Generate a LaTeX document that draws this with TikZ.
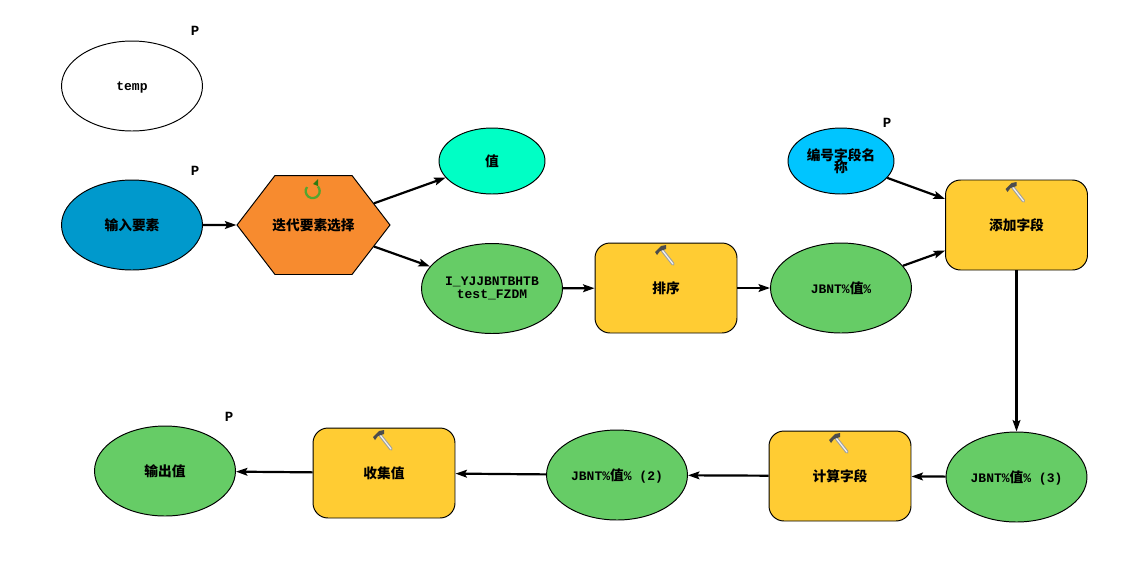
\documentclass[tikz,border=0pt]{standalone}
\usepackage{fontspec}
\setmainfont{Liberation Mono}
\newfontfamily\cjk[Scale=1.054]{Noto Sans CJK SC}
\usetikzlibrary{positioning}
\usetikzlibrary{arrows.meta}
\usetikzlibrary{shapes.symbols}
\usetikzlibrary{shapes.geometric}
\definecolor{inblue}{HTML}{0099CC}
\definecolor{iterorange}{HTML}{F78B2F}
\definecolor{outgreen}{HTML}{66CC66}
\definecolor{tooly}{HTML}{FFCC33}
\definecolor{valaqua}{HTML}{00FFC5}
\definecolor{namecyan}{HTML}{00C5FF}
\definecolor{loopgreen}{HTML}{55A52F}
\definecolor{loopdark}{HTML}{2F7A10}
\tikzset{
  lbl/.style={font=\fontsize{7.4}{8}\selectfont\bfseries,text depth=0.3pt},
  data/.style={ellipse,draw,line width=0.55pt,minimum width=2.82cm,minimum height=1.8cm,
    inner sep=0pt,align=center,lbl},
  tool/.style={rectangle,rounded corners=0.3cm,draw,line width=0.55pt,fill=tooly,
    minimum width=2.84cm,minimum height=1.8cm,inner sep=0pt,lbl},
  small/.style={minimum width=2.12cm,minimum height=1.32cm},
  flag/.style={font=\fontsize{8}{8}\selectfont\bfseries,inner sep=0pt},
  link/.style={-{Stealth[length=6.5pt,width=4.4pt,inset=1.2pt]},line width=1.25pt},
  hammer/.pic={
    \draw[line width=1.9pt,gray!75,line cap=round] (-4,-38) -- (7,-24);
    \draw[line width=0.7pt,gray!10,line cap=round] (-4,-38) -- (7,-24);
    \fill[black!70] (-11,-36) -- (-5,-42) -- (0,-43) -- (0,-39) -- (-6,-37) -- (-9,-33) -- cycle;
  }
}
\begin{document}
\begin{tikzpicture}[>=stealth,x=0.02cm,y=-0.02cm]
  \useasboundingbox (0,0) rectangle (1139,562);

  % nodes
  \node[data] (temp) at (132,86) {temp};
  \node[data,fill=inblue] (input) at (132,225) {\cjk 输入要素};
  \node[signal,signal to=east and west,signal pointer angle=105,draw,line width=0.55pt,
    fill=iterorange,minimum width=3.06cm,minimum height=1.98cm,inner sep=0pt,
    inner xsep=-0.055cm,lbl]
    (iter) at (313.5,225) {\cjk 迭代要素选择};
  \node[data,small,fill=valaqua] (val) at (492,161) {\cjk 值};
  \node[data,text depth={},fill=outgreen] (fzdm) at (492,288.5)
    {I\_YJJBNTBHTB\\[-0.5pt]test\_FZDM};
  \node[tool] (sort) at (666,288) {\cjk 排序};
  \node[data,fill=outgreen] (jbnt) at (841,288) {JBNT\%{\cjk 值}\%};
  \node[data,small,text depth={},fill=namecyan] (name) at (841,161)
    {\cjk 编号字段名\\[-1pt]\cjk 称};
  \node[tool] (addf) at (1016.5,225) {\cjk 添加字段};
  \node[data,fill=outgreen] (jbntc) at (1016.5,477) {JBNT\%{\cjk 值}\% (3)};
  \node[tool] (calc) at (840,476) {\cjk 计算字段};
  \node[data,fill=outgreen] (jbntb) at (617,475) {JBNT\%{\cjk 值}\% (2)};
  \node[tool] (coll) at (384,473) {\cjk 收集值};
  \node[data,fill=outgreen] (out) at (165,471) {\cjk 输出值};

  % parameter marks
  \node[flag] (p1) at (195,31) {P};
  \node[flag] (p2) at (195,171) {P};
  \node[flag] (p3) at (887,123) {P};
  \node[flag] (p4) at (229,417) {P};

  % icons
  \pic at (sort) {hammer};
  \pic at (addf) {hammer};
  \pic at (calc) {hammer};
  \pic at (coll) {hammer};
  \draw[line width=1.3pt,loopgreen] (iter.center) ++(-6.5,-38)
    arc[start angle=216,end angle=-42,radius=7];
  \fill[loopdark] (iter.center) ++(-0.5,-41) -- ++(5,-5) -- ++(0,7) -- cycle;

  % arrows
  \draw[link] (input) -- (iter);
  \draw[link] (iter) -- (val);
  \draw[link] (iter) -- (fzdm);
  \draw[link] (fzdm) -- (sort);
  \draw[link] (sort) -- (jbnt);
  \draw[link] (name) -- (addf);
  \draw[link] (jbnt) -- (addf);
  \draw[link] (addf) -- (jbntc);
  \draw[link] (jbntc) -- (calc);
  \draw[link] (calc) -- (jbntb);
  \draw[link] (jbntb) -- (coll);
  \draw[link] (coll) -- (out);
\end{tikzpicture}
\end{document}
